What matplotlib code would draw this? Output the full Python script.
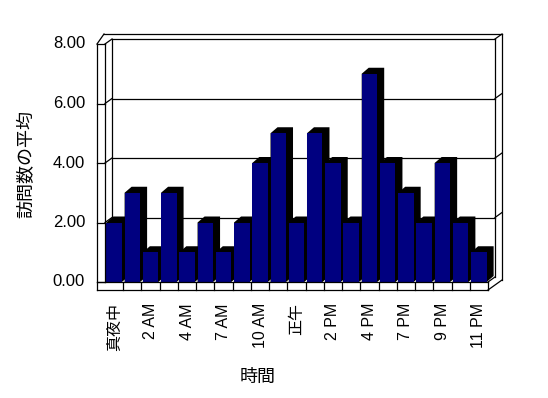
import matplotlib
matplotlib.use("Agg")
import matplotlib.pyplot as plt
from matplotlib.lines import Line2D
from matplotlib.patches import Polygon
from matplotlib.transforms import IdentityTransform, offset_copy

plt.rcParams["font.family"] = ["Liberation Sans", "Noto Sans CJK JP"]

# data
hours = ["真夜中", "1 AM", "2 AM", "3 AM", "4 AM", "6 AM", "7 AM", "9 AM",
         "10 AM", "11 AM", "正午", "1 PM", "2 PM", "3 PM", "4 PM", "6 PM",
         "7 PM", "8 PM", "9 PM", "10 PM", "11 PM"]
visits = [2, 3, 1, 3, 1, 2, 1, 2, 4, 5, 2, 5, 4, 2, 7, 4, 3, 2, 4, 2, 1]
y_ticks = [0, 2, 4, 6, 8]
y_title = "訪問数の平均"
x_title = "時間"

NAVY = "#000080"
T = 8          # wall / floor thickness, px
DX, DY = 7, 5  # wall depth, px
BDY = 6        # bar depth (vertical), px

fig = plt.figure(figsize=(5.48, 3.98), dpi=100)
ax = fig.add_axes([105 / 548, 116 / 398, 383 / 548, 238 / 398])
ax.set_xlim(-0.5, len(hours) - 0.5)
ax.set_ylim(0, 8)
ax.axis("off")

xl, xr = ax.get_xlim()
yb, yt = ax.get_ylim()


def P(x, y, ox=0, oy=0):
    px, py = ax.transData.transform((x, y))
    return (px + ox, py + oy)


def seg(p, q, z=1):
    ax.add_line(Line2D([p[0], q[0]], [p[1], q[1]], transform=IdentityTransform(),
                       color="black", lw=0.9, zorder=z, clip_on=False))


# back wall (inner face + gridlines)
for v in y_ticks[1:-1]:
    seg(P(xl, v, DX, DY), P(xr, v, DX, DY))
    seg(P(xr, v, DX, DY), P(xr, v, 2 * DX, 2 * DY))
    seg(P(xl, v), P(xl, v, DX, DY))
seg(P(xl, yb, DX, DY), P(xl, yt, DX, DY))
seg(P(xr, yb, DX, DY), P(xr, yt, DX, DY))
seg(P(xl, yt, DX, DY), P(xr, yt, DX, DY))
seg(P(xl, yt), P(xl, yt, DX, DY))
# outer silhouette of the back wall
seg(P(xl, yt, -T, 0), P(xl, yt, -T + DX, 2 * DY))
seg(P(xl, yt, -T + DX, 2 * DY), P(xr, yt, 2 * DX, 2 * DY))
seg(P(xr, yt, DX, DY), P(xr, yt, 2 * DX, 2 * DY))
seg(P(xr, yt, 2 * DX, 2 * DY), P(xr, yb, 2 * DX, 2 * DY - T))
seg(P(xr, yb, 0, -T), P(xr, yb, 2 * DX, 2 * DY - T))
seg(P(xr, yb), P(xr, yb, DX, DY))

# bars with black top / side
bars = ax.bar(range(len(hours)), visits, width=0.85, color=NAVY, linewidth=0)
for i, r in enumerate(bars):
    x0, x1, v = r.get_x(), r.get_x() + r.get_width(), r.get_height()
    r.set_zorder(10 + 2 * i + 1)
    r.set_clip_on(False)
    shade = Polygon([P(x0, 0), P(x1, 0), P(x1, 0, DX, BDY), P(x1, v, DX, BDY),
                     P(x0, v, DX, BDY), P(x0, v)], closed=True,
                    transform=IdentityTransform(), facecolor="black",
                    edgecolor="none", zorder=10 + 2 * i, clip_on=False)
    ax.add_patch(shade)

# left wall front strip
seg(P(xl, yb, -T, -T), P(xl, yt, -T, 0), 100)
seg(P(xl, yb), P(xl, yt), 100)
for v in y_ticks:
    seg(P(xl, v, -T, 0), P(xl, v), 100)
# floor front strip
seg(P(xl, yb, -T, 0), P(xr, yb), 100)
seg(P(xl, yb, -T, -T), P(xr, yb, 0, -T), 100)
seg(P(xr, yb), P(xr, yb, 0, -T), 100)
for k in range(1, len(hours)):
    seg(P(k - 0.5, yb), P(k - 0.5, yb, 0, -T), 100)

# tick labels
ytr = offset_copy(ax.transData, fig=fig, x=-20, y=0, units="dots")
for v in y_ticks:
    ax.text(xl, v, f"{v:.2f}", transform=ytr, ha="right", va="center",
            fontsize=12, clip_on=False)
xtr = offset_copy(ax.transData, fig=fig, x=0, y=-21, units="dots")
for i in range(0, len(hours), 2):
    ax.text(i, 0, hours[i], transform=xtr, rotation=90, ha="center", va="top",
            fontsize=11.5, clip_on=False)

fig.text(27 / 548, 1 - 164 / 398, y_title, rotation=90, ha="center",
         va="center", fontsize=13)
fig.text(258 / 548, 1 - 377 / 398, x_title, ha="center", va="center",
         fontsize=13)

fig.savefig("out.png", dpi=100)
